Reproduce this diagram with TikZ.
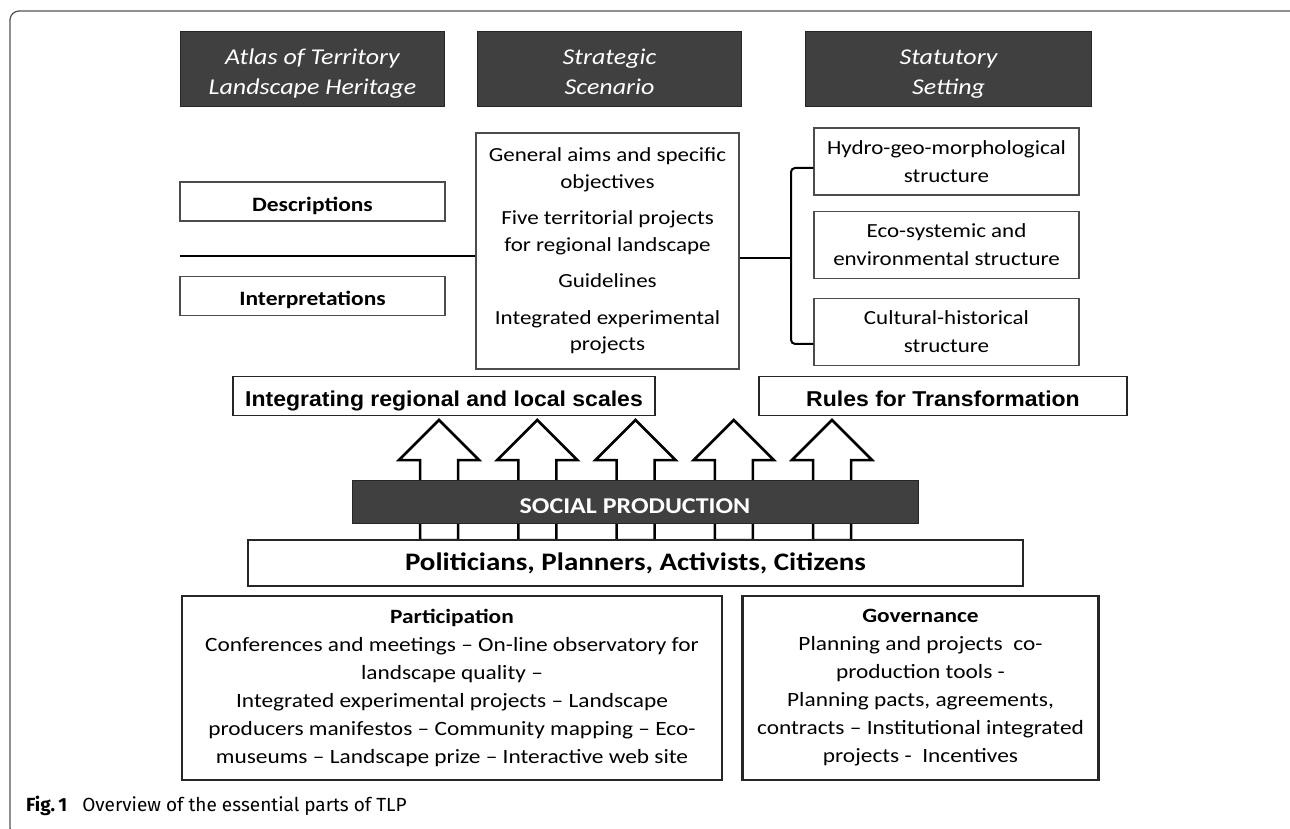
\documentclass[tikz,border=0pt]{standalone}
\usepackage{xcolor}
\usepackage{fontspec}
\setmainfont{Carlito}[FakeStretch=1.15]
\newfontfamily\arialfont{Liberation Sans}[FakeStretch=1.07]
\newfontfamily\capfont{Fira Sans}
\usepackage{tikz}
\usetikzlibrary{positioning, calc}
\definecolor{darkbox}{HTML}{404040}
\definecolor{framegray}{HTML}{555555}
\newcommand{\topstrut}{\rule{0pt}{25.6pt}}
\newcommand{\botstrut}{\rule[-6pt]{0pt}{6pt}}
\tikzstyle{headbox} = [rectangle, minimum width=264pt, minimum height=75pt, inner sep=0pt, align=center, draw=black!85, fill=darkbox, text=white, line width=1pt, font=\fontsize{22.6}{30.5}\selectfont\itshape]
\tikzstyle{plainbox} = [rectangle, minimum width=265pt, inner sep=0pt, align=center, draw=black!70, fill=white, line width=1.2pt, font=\fontsize{20}{28}\selectfont]
\tikzstyle{labelbox} = [plainbox, minimum height=39pt, text height=22pt, text depth=2.6pt, font=\fontsize{20.4}{24}\selectfont\bfseries]
\tikzstyle{scalebox} = [plainbox, minimum height=39pt, text height=24pt, text depth=4pt, line width=1.5pt, draw=black!85, font=\arialfont\fontsize{21.5}{26}\selectfont\bfseries]
\tikzstyle{partbox} = [plainbox, minimum height=184pt, line width=2.5pt, draw=black!85, font=\fontsize{20.3}{28}\selectfont]
\tikzstyle{link} = [line width=2pt, black]
\tikzstyle{blockarrow} = [line width=2.5pt, draw=black, fill=white, line join=miter]

\begin{document}
\begin{tikzpicture}[x=1pt, y=-1pt]
    \useasboundingbox (0,0) rectangle (1290,829);

    % Frame
    \draw[framegray, line width=1.3pt, rounded corners=9pt] (1295,11) -- (10,11) -- (10,837) -- (40,837);

    % Headers
    \node[headbox] (atlas) at (312.5,69.5) {\topstrut Atlas of Territory\\Landscape Heritage\botstrut};
    \node[headbox, right=32pt of atlas] (strat) {\topstrut Strategic\\Scenario\botstrut};
    \node[headbox, minimum width=286pt, right=63pt of strat] (stat) {\topstrut Statutory\\Setting\botstrut};

    % Atlas
    \node[labelbox] (desc) at (312.5,201.5) {Descriptions};
    \node[labelbox, below=54pt of desc] (interp) {Interpretations};

    % Strategic scenario
    \node[plainbox, minimum width=263pt, minimum height=236pt, font=\fontsize{20}{26.5}\selectfont] (mid) at (607.5,251)
        {General aims and specific\\objectives\\[10pt]Five territorial projects\\for regional landscape\\[10pt]Guidelines\\[10pt]Integrated experimental\\projects};

    % Statutory setting
    \node[plainbox, minimum height=67pt] (hydro) at (946.5,161.5) {Hydro-geo-morphological\\structure};
    \node[plainbox, minimum height=67pt, below=15pt of hydro] (eco) {Eco-systemic and\\environmental structure};
    \node[plainbox, minimum height=67pt, below=19pt of eco] (cult) {Cultural-historical\\structure};

    % Links
    \coordinate (lstart) at (180,256);
    \coordinate (brk) at (791,258);
    \draw[link] (lstart) -- (lstart -| mid.west);
    \draw[link] (mid.east |- brk) -- (brk);
    \draw[link, rounded corners=4pt] ([yshift=-6.5pt]hydro.west) -| (brk) |- ([yshift=-12pt]cult.west);

    % Scales and rules
    \node[scalebox, minimum width=422pt] (integ) at (444,396) {Integrating regional and local scales};
    \node[scalebox, minimum width=368pt] (rules) at (943,396) {Rules for Transformation};

    % Arrows
    \foreach \x in {439,537.25,635.5,733.75,832}
        \draw[blockarrow] (\x-19,540) -- (\x-19,460) -- (\x-40,460) -- (\x,420)
            -- (\x+40,460) -- (\x+19,460) -- (\x+19,540) -- cycle;

    % Social production
    \node[rectangle, minimum width=566pt, minimum height=43pt, text height=23pt, text depth=0pt, inner sep=0pt,
        draw=black!85, fill=darkbox, text=white, line width=1pt,
        font=\fontsize{22.6}{26}\selectfont\bfseries] (social) at (635,501.5) {SOCIAL PRODUCTION};
    \node[plainbox, minimum width=775pt, minimum height=46pt, line width=2pt, draw=black!85,
        font=\fontsize{25.2}{30}\selectfont\bfseries] (people) at (635.5,563) {Politicians, Planners, Activists, Citizens};

    % Participation and governance
    \node[partbox, minimum width=540pt] (part) at (452,688)
        {\textbf{Participation}\\Conferences and meetings -- On-line observatory for\\landscape quality --\\Integrated experimental projects -- Landscape\\producers manifestos -- Community mapping -- Eco-\\museums -- Landscape prize -- Interactive web site};
    \node[partbox, minimum width=356pt, right=18pt of part] (gov)
        {\textbf{Governance}\\Planning and projects\ \ co-\\production tools -\\Planning pacts, agreements,\\contracts -- Institutional integrated\\projects -\ \ Incentives};

    % Caption
    \node[anchor=west, inner sep=0pt, font=\capfont\fontsize{19}{22}\selectfont] (cap) at (26,806)
        {\textbf{Fig.\,1}\hspace{15pt}Overview of the essential parts of TLP};
\end{tikzpicture}
\end{document}
